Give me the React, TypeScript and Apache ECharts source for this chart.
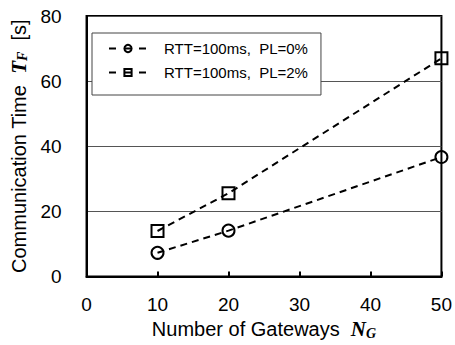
import React, { useEffect, useRef } from "react";
import * as echarts from "echarts";

const gateways = [10, 20, 50];
const pl0 = [7.3, 14.1, 36.7];
const pl2 = [14.0, 25.6, 67.0];
const seriesNames = ["RTT=100ms,  PL=0%", "RTT=100ms,  PL=2%"];
const xTicks = [0, 10, 20, 30, 40, 50];
const yTicks = [0, 20, 40, 60, 80];

const FONT = "'Liberation Sans', Arial, Helvetica, sans-serif";
const SERIF = "'Liberation Serif', 'Times New Roman', serif";

export default function App() {
  const ref = useRef<HTMLDivElement>(null);
  useEffect(() => {
    if (!ref.current) return;
    const chart = echarts.init(ref.current, undefined, { renderer: "svg" });
    const mk = (name: string, vals: number[], symbol: string) => ({
      name,
      type: "line",
      data: gateways.map((g, i) => [g, vals[i]]),
      symbol,
      symbolSize: 12,
      lineStyle: { color: "#000", width: 2, type: [7, 5] },
      itemStyle: { color: "rgba(0,0,0,0)", borderColor: "#000", borderWidth: 2 },
      z: 5,
    });
    const rich = {
      a: { fontFamily: FONT, fontSize: 20, color: "#000" },
      b: { fontFamily: SERIF, fontSize: 21, fontStyle: "italic", fontWeight: "bold", color: "#000" },
      c: { fontFamily: SERIF, fontSize: 14, fontStyle: "italic", fontWeight: "bold", color: "#000", verticalAlign: "bottom", padding: [8, 0, 0, 0] },
    };
    chart.setOption({
      animation: false,
      backgroundColor: "#fff",
      grid: { left: 81, right: 11, top: 16, bottom: 67, show: true, borderColor: "#000", borderWidth: 2 },
      legend: {
        orient: "vertical",
        left: 92,
        top: 33,
        padding: [8, 13, 15, 16],
        itemGap: 9,
        itemWidth: 38,
        itemHeight: 9,
        borderColor: "#444",
        borderWidth: 1,
        backgroundColor: "#fff",
        lineStyle: { type: [7, 8], width: 2, color: "#000" },
        textStyle: { fontFamily: FONT, fontSize: 15, color: "#000", padding: [0, 0, 0, 12] },
        data: seriesNames,
      },
      xAxis: {
        type: "value",
        min: xTicks[0],
        max: xTicks[xTicks.length - 1],
        interval: 10,
        name: "{a|Number of Gateways  }{b|N}{c|G}",
        nameLocation: "middle",
        nameGap: 38,
        nameTextStyle: { rich },
        axisLine: { lineStyle: { color: "#000", width: 2 } },
        axisTick: { inside: true, length: 5, lineStyle: { color: "#000", width: 2 } },
        axisLabel: { fontFamily: FONT, fontSize: 19, color: "#000", margin: 18 },
        splitLine: { show: false },
      },
      yAxis: {
        type: "value",
        min: yTicks[0],
        max: yTicks[yTicks.length - 1],
        interval: 20,
        name: "{a|Communication Time  }{b|T}{c|F}{a|  [s]}",
        nameLocation: "middle",
        nameRotate: 90,
        nameGap: 54,
        nameTextStyle: { rich },
        axisLine: { lineStyle: { color: "#000", width: 2 } },
        axisTick: { show: false },
        axisLabel: { fontFamily: FONT, fontSize: 19, color: "#000", margin: 25 },
        splitLine: { show: true, lineStyle: { color: "#555", width: 1 } },
      },
      series: [mk(seriesNames[0], pl0, "circle"), mk(seriesNames[1], pl2, "rect")],
    });
    return () => chart.dispose();
  }, []);
  return <div ref={ref} style={{ width: 455, height: 345, position: "absolute", left: 0, top: 0 }} />;
}
